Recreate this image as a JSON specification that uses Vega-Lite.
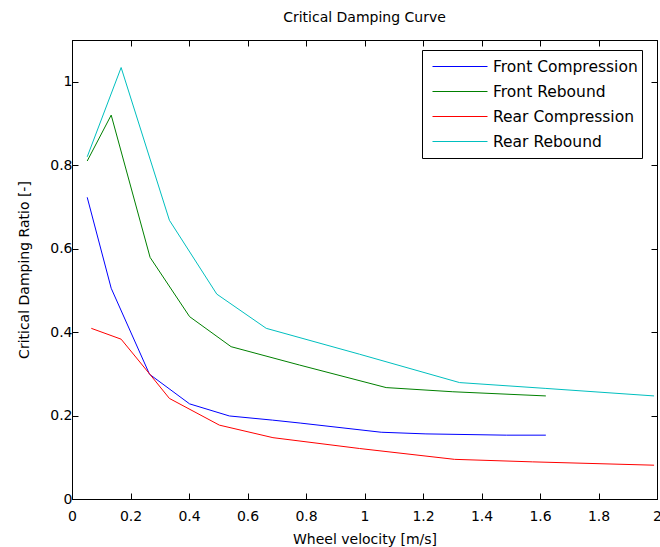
{
  "$schema": "https://vega.github.io/schema/vega-lite/v6.json",
  "width": 585,
  "height": 459,
  "autosize": "none",
  "padding": {"left": 72, "top": 40, "right": 3, "bottom": 48},
  "background": "white",
  "title": {"text": "Critical Damping Curve", "font": "DejaVu Sans", "fontSize": 14, "fontWeight": "normal", "color": "black", "offset": 15},
  "config": {
    "view": {"stroke": "black", "strokeWidth": 1},
    "axis": {"grid": false, "domainColor": "black", "tickColor": "black", "labelColor": "black", "titleColor": "black", "labelFont": "DejaVu Sans", "titleFont": "DejaVu Sans", "labelFontSize": 14, "titleFontSize": 14, "titleFontWeight": "normal", "tickSize": -6, "domainWidth": 1, "tickWidth": 1}
  },
  "data": {
    "values": [
      {"series": "Front Compression", "v": 0.052, "r": 0.723},
      {"series": "Front Compression", "v": 0.134, "r": 0.505},
      {"series": "Front Compression", "v": 0.265, "r": 0.299},
      {"series": "Front Compression", "v": 0.402, "r": 0.228},
      {"series": "Front Compression", "v": 0.538, "r": 0.199},
      {"series": "Front Compression", "v": 0.686, "r": 0.189},
      {"series": "Front Compression", "v": 0.78, "r": 0.182},
      {"series": "Front Compression", "v": 1.057, "r": 0.160},
      {"series": "Front Compression", "v": 1.21, "r": 0.156},
      {"series": "Front Compression", "v": 1.485, "r": 0.153},
      {"series": "Front Compression", "v": 1.62, "r": 0.153},
      {"series": "Front Rebound", "v": 0.052, "r": 0.81},
      {"series": "Front Rebound", "v": 0.134, "r": 0.92},
      {"series": "Front Rebound", "v": 0.267, "r": 0.579},
      {"series": "Front Rebound", "v": 0.402, "r": 0.437},
      {"series": "Front Rebound", "v": 0.544, "r": 0.365},
      {"series": "Front Rebound", "v": 0.778, "r": 0.321},
      {"series": "Front Rebound", "v": 1.074, "r": 0.267},
      {"series": "Front Rebound", "v": 1.302, "r": 0.257},
      {"series": "Front Rebound", "v": 1.62, "r": 0.247},
      {"series": "Rear Compression", "v": 0.066, "r": 0.409},
      {"series": "Rear Compression", "v": 0.168, "r": 0.383},
      {"series": "Rear Compression", "v": 0.265, "r": 0.300},
      {"series": "Rear Compression", "v": 0.333, "r": 0.241},
      {"series": "Rear Compression", "v": 0.504, "r": 0.177},
      {"series": "Rear Compression", "v": 0.687, "r": 0.147},
      {"series": "Rear Compression", "v": 0.983, "r": 0.121},
      {"series": "Rear Compression", "v": 1.308, "r": 0.095},
      {"series": "Rear Compression", "v": 1.575, "r": 0.089},
      {"series": "Rear Compression", "v": 1.99, "r": 0.081},
      {"series": "Rear Rebound", "v": 0.052, "r": 0.82},
      {"series": "Rear Rebound", "v": 0.168, "r": 1.034},
      {"series": "Rear Rebound", "v": 0.333, "r": 0.668},
      {"series": "Rear Rebound", "v": 0.495, "r": 0.491},
      {"series": "Rear Rebound", "v": 0.664, "r": 0.409},
      {"series": "Rear Rebound", "v": 0.983, "r": 0.347},
      {"series": "Rear Rebound", "v": 1.325, "r": 0.279},
      {"series": "Rear Rebound", "v": 1.62, "r": 0.265},
      {"series": "Rear Rebound", "v": 1.99, "r": 0.247}
    ]
  },
  "layer": [
    {
      "mark": {"type": "line", "strokeWidth": 1},
      "encoding": {
        "x": {"field": "v", "type": "quantitative", "scale": {"domain": [0, 2], "nice": false, "zero": false},
              "axis": {"title": "Wheel velocity [m/s]", "values": [0, 0.2, 0.4, 0.6, 0.8, 1, 1.2, 1.4, 1.6, 1.8, 2], "format": "~g", "labelPadding": 16, "titlePadding": 9, "labelFlush": false}},
        "y": {"field": "r", "type": "quantitative", "scale": {"domain": [0, 1.1], "nice": false},
              "axis": {"title": "Critical Damping Ratio [-]", "values": [0, 0.2, 0.4, 0.6, 0.8, 1], "format": "~g", "labelPadding": 6, "titlePadding": 18}},
        "color": {"field": "series", "type": "nominal",
                  "scale": {"domain": ["Front Compression", "Front Rebound", "Rear Compression", "Rear Rebound"], "range": ["#0000ff", "#008000", "#ff0000", "#00bfbf"]},
                  "legend": {"title": null, "orient": "none", "legendX": 350, "legendY": 10, "direction": "vertical",
                             "strokeColor": "black", "fillColor": "white", "padding": 4,
                             "symbolType": "stroke", "symbolSize": 3025, "symbolStrokeWidth": 1, "symbolOffset": 6,
                             "labelFont": "DejaVu Sans", "labelFontSize": 15.5, "labelColor": "black", "labelOffset": 5,
                             "clipHeight": 25, "rowPadding": 0}}
      }
    },
    {
      "mark": {"type": "line", "opacity": 0},
      "encoding": {
        "x": {"field": "v", "type": "quantitative", "scale": {"domain": [0, 2], "nice": false, "zero": false},
              "axis": {"orient": "top", "title": null, "labels": false, "values": [0, 0.2, 0.4, 0.6, 0.8, 1, 1.2, 1.4, 1.6, 1.8, 2]}},
        "y": {"field": "r", "type": "quantitative", "scale": {"domain": [0, 1.1], "nice": false},
              "axis": {"orient": "right", "title": null, "labels": false, "values": [0, 0.2, 0.4, 0.6, 0.8, 1]}},
        "detail": {"field": "series"}
      }
    }
  ],
  "resolve": {"axis": {"x": "independent", "y": "independent"}}
}
